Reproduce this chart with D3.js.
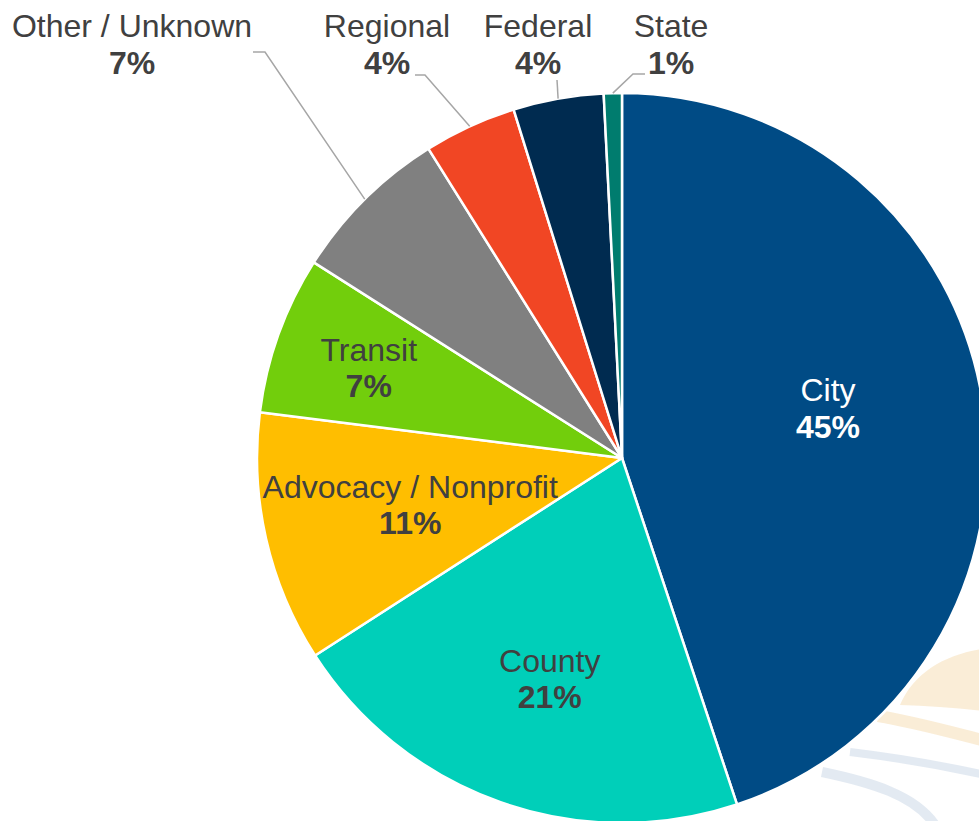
<!DOCTYPE html>
<html>
<head>
<meta charset="utf-8">
<script src="https://cdn.jsdelivr.net/npm/d3@7"></script>
<style>
  html, body { margin: 0; padding: 0; background: #fff; }
  svg { display: block; overflow: hidden; }
  text { font-family: "Liberation Sans", Arial, sans-serif; }
</style>
</head>
<body>
<svg id="chart" width="979" height="821"></svg>
<script>
// slice data, clockwise from 12 o'clock
var categories = ["City", "County", "Advocacy / Nonprofit", "Transit", "Other / Unknown", "Regional", "Federal", "State"]
var shares = [44.9, 21.0, 11.1, 7.0, 7.1, 4.1, 4.0, 0.8]
var pctLabels = ["45%", "21%", "11%", "7%", "7%", "4%", "4%", "1%"]
var colors = ["#004B85", "#00CFB9", "#FFBE00", "#72CE0C", "#808080", "#F14624", "#002B50", "#007C6E"]

var width = 979
var height = 821
var cx = 622, cy = 458
var radius = 365

var svg = d3.select("#chart")

// faint watermark swooshes behind the pie (bottom right)
var wm = svg.append("g")
wm.append("path")
    .attr("d", "M900,705 C915,670 950,652 990,648 L990,712 C960,708 930,706 900,705 Z")
    .attr("fill", "#F8E6C6").attr("opacity", 0.7)
wm.append("path")
    .attr("d", "M878,716 C915,722 950,732 990,742")
    .attr("fill", "none").attr("stroke", "#F8E6C6").attr("stroke-width", 12).attr("opacity", 0.7)
wm.append("path")
    .attr("d", "M850,752 C900,758 945,766 990,776")
    .attr("fill", "none").attr("stroke", "#DCE5EF").attr("stroke-width", 8).attr("opacity", 0.8)
wm.append("path")
    .attr("d", "M822,772 C870,782 915,795 935,825")
    .attr("fill", "none").attr("stroke", "#DCE5EF").attr("stroke-width", 10).attr("opacity", 0.8)

var g = svg.append("g").attr("transform", "translate(" + cx + "," + cy + ")")

var pie = d3.pie().sort(null).value(function(d) { return d })
var data_ready = pie(shares)

var arcGenerator = d3.arc().innerRadius(0).outerRadius(radius)

g.selectAll("path.slice").data(data_ready).join("path")
    .attr("class", "slice")
    .attr("d", arcGenerator)
    .attr("fill", function(d, i) { return colors[i] })
    .attr("stroke", "#fff")
    .style("stroke-width", "2.5px")
    .style("stroke-linejoin", "round")

// inner labels: radius per slice, slightly rotated back like the original
var innerLabelRadius = {0: 210, 1: 241, 2: 219, 3: 266}
var angleTweak = -2 * Math.PI / 180
var fontSize = 32, lineGap = 36.5

function drawLabel(x, y, i, fill) {
    var t = svg.append("text")
        .attr("text-anchor", "middle")
        .style("font-size", fontSize + "px")
        .style("fill", fill)
    t.append("tspan").attr("x", x).attr("y", y).text(categories[i])
    t.append("tspan").attr("x", x).attr("y", y + lineGap)
        .style("font-weight", "bold").text(pctLabels[i])
}

data_ready.forEach(function(d, i) {
    if (innerLabelRadius[i] === undefined) return
    var a = (d.startAngle + d.endAngle) / 2 + angleTweak
    var r = innerLabelRadius[i]
    var x = cx + r * Math.sin(a)
    var y = cy - r * Math.cos(a)
    drawLabel(x, y - 16, i, i === 0 ? "#fff" : "#404040")
})

// outer labels above the pie with leader lines to the arc middle
var outerLabels = {
    4: {x: 132, y: 37, elbow: [[253, 52], [265, 52]]},
    5: {x: 387, y: 37, elbow: [[415, 75], [425, 75]]},
    6: {x: 538, y: 37, elbow: [[557, 80]]},
    7: {x: 671, y: 37, elbow: [[645, 74], [633, 74]]}
}

var line = d3.line()
data_ready.forEach(function(d, i) {
    var o = outerLabels[i]
    if (!o) return
    var a = (d.startAngle + d.endAngle) / 2
    var end = [cx + radius * Math.sin(a), cy - radius * Math.cos(a)]
    svg.append("path")
        .attr("d", line(o.elbow.concat([end])))
        .attr("fill", "none")
        .attr("stroke", "#A6A6A6")
        .attr("stroke-width", 1.5)
    drawLabel(o.x, o.y, i, "#404040")
})
</script>
</body>
</html>
